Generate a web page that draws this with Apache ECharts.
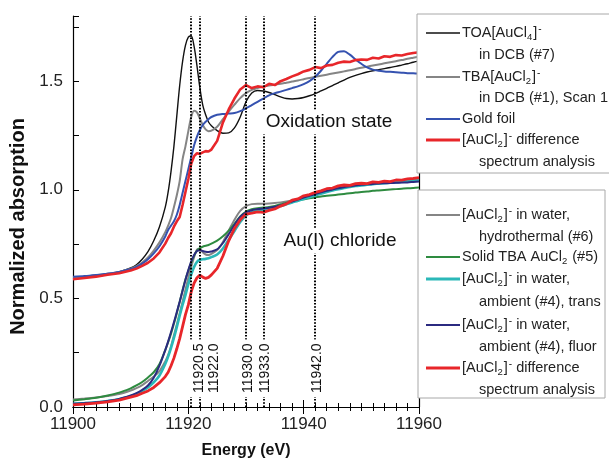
<!DOCTYPE html>
<html><head><meta charset="utf-8">
<script src="https://cdn.jsdelivr.net/npm/echarts@6/dist/echarts.min.js"></script>
<style>html,body{margin:0;padding:0;background:#fff}#c{width:609px;height:464px}</style>
</head><body><div id="c"></div>
<script>
// ---------- data ----------
const energy = [11900,11902,11904,11906,11908,11910,11911,11912,11913,11914,11915,11916,
  11916.5,11917,11917.5,11918,11918.5,11919,11919.5,11920,11920.5,11921,11921.5,11922,11922.5,11923,11923.5,11924,
  11925,11926,11927,11928,11929,11930,11931,11932,11933,11934,
  11935,11936,11937,11938,11939,11940,11941,11942,11943,11944,
  11945,11946,11947,11948,11949,11950,11951,11952,11953,11954,
  11955,11956,11957,11958,11959,11960];

// Oxidation state group
const toaAuCl4 = [0.590,0.597,0.604,0.612,0.622,0.640,
  0.655,0.680,0.715,0.765,0.830,0.920,
  0.990,1.085,1.200,1.340,1.480,1.590,1.665,1.703,1.708,1.660,1.570,1.470,1.390,1.345,1.312,1.295,
  1.272,1.260,1.262,1.285,1.335,1.405,1.445,1.457,1.455,1.448,
  1.438,1.428,1.420,1.418,1.420,1.425,1.433,1.443,1.455,1.467,
  1.480,1.492,1.505,1.517,1.527,1.535,1.542,1.548,1.553,1.558,
  1.563,1.568,1.574,1.580,1.587,1.592];
const tbaAuCl2 = [0.595,0.600,0.606,0.613,0.622,0.637,
  0.648,0.665,0.688,0.720,0.758,0.805,
  0.835,0.870,0.920,0.975,1.040,1.140,1.200,1.270,1.335,1.364,1.356,1.328,1.298,1.278,1.270,1.272,
  1.290,1.325,1.360,1.392,1.422,1.445,1.460,1.468,1.475,1.480,
  1.484,1.488,1.493,1.498,1.503,1.509,1.515,1.520,1.525,1.530,
  1.535,1.540,1.545,1.550,1.556,1.562,1.567,1.572,1.577,1.582,
  1.587,1.592,1.597,1.603,1.608,1.613];
const goldFoil = [0.600,0.603,0.608,0.614,0.622,0.635,
  0.645,0.660,0.680,0.707,0.740,0.785,
  0.815,0.835,0.855,0.885,0.930,0.985,1.040,1.095,1.150,1.205,1.245,1.275,1.298,1.313,1.325,1.335,
  1.345,1.349,1.351,1.353,1.362,1.375,1.390,1.405,1.420,1.435,
  1.445,1.452,1.460,1.468,1.476,1.486,1.500,1.520,1.548,1.580,
  1.612,1.635,1.638,1.622,1.600,1.580,1.563,1.553,1.548,1.545,
  1.543,1.541,1.539,1.537,1.536,1.535];
const diffUpper = [0.588,0.594,0.600,0.609,0.616,0.628,
  0.637,0.650,0.664,0.684,0.712,0.752,
  0.778,0.800,0.830,0.855,0.875,0.930,0.990,1.050,1.120,1.155,1.168,1.165,1.172,1.178,1.176,1.185,
  1.225,1.310,1.370,1.420,1.462,1.482,1.468,1.476,1.472,1.488,
  1.482,1.500,1.510,1.522,1.532,1.545,1.552,1.565,1.560,1.572,
  1.575,1.585,1.590,1.588,1.597,1.600,1.598,1.608,1.604,1.615,
  1.612,1.620,1.618,1.625,1.630,1.633];

// Au(I) chloride group
const waterHydro = [0.035,0.039,0.044,0.051,0.060,0.076,
  0.087,0.101,0.120,0.140,0.165,0.210,
  0.240,0.280,0.330,0.380,0.432,0.485,0.540,0.595,0.645,0.690,0.725,0.728,0.712,0.702,0.700,0.705,
  0.722,0.760,0.812,0.862,0.903,0.925,0.934,0.936,0.936,0.937,
  0.939,0.942,0.946,0.951,0.957,0.963,0.970,0.978,0.986,0.994,
  1.001,1.008,1.013,1.018,1.022,1.025,1.028,1.030,1.032,1.034,
  1.036,1.038,1.040,1.043,1.046,1.048];
const solidTBA = [0.030,0.036,0.043,0.053,0.066,0.086,
  0.099,0.115,0.136,0.160,0.198,0.262,
  0.298,0.338,0.383,0.432,0.485,0.538,0.588,0.628,0.665,0.697,0.720,0.732,0.738,0.742,0.746,0.752,
  0.766,0.786,0.812,0.843,0.877,0.900,0.910,0.915,0.918,0.921,
  0.926,0.933,0.940,0.946,0.951,0.956,0.961,0.965,0.969,0.972,
  0.975,0.978,0.981,0.984,0.987,0.990,0.992,0.995,0.997,0.999,
  1.001,1.003,1.005,1.007,1.008,1.010];
const waterTrans = [0.015,0.018,0.022,0.028,0.036,0.050,
  0.060,0.073,0.090,0.113,0.145,0.198,
  0.232,0.272,0.318,0.368,0.420,0.470,0.515,0.565,0.610,0.645,0.668,0.678,0.680,0.682,0.685,0.690,
  0.702,0.730,0.770,0.810,0.852,0.882,0.897,0.904,0.908,0.912,
  0.918,0.925,0.933,0.941,0.950,0.958,0.966,0.974,0.982,0.990,
  0.997,1.003,1.008,1.013,1.017,1.020,1.023,1.026,1.028,1.030,
  1.032,1.034,1.036,1.038,1.040,1.042];
const waterFluor = [0.015,0.018,0.022,0.028,0.037,0.053,
  0.064,0.079,0.099,0.135,0.190,0.262,
  0.302,0.345,0.390,0.437,0.485,0.535,0.585,0.630,0.670,0.700,0.718,0.722,0.718,0.715,0.714,0.716,
  0.726,0.755,0.795,0.838,0.875,0.896,0.906,0.911,0.914,0.917,
  0.922,0.929,0.937,0.946,0.955,0.964,0.972,0.980,0.988,0.995,
  1.001,1.007,1.012,1.016,1.020,1.023,1.025,1.027,1.029,1.030,
  1.031,1.032,1.033,1.034,1.036,1.038];
const diffLower = [0.010,0.013,0.018,0.024,0.032,0.045,
  0.052,0.063,0.074,0.090,0.112,0.140,
  0.160,0.190,0.225,0.268,0.315,0.370,0.425,0.470,0.530,0.570,0.595,0.607,0.598,0.592,0.597,0.608,
  0.638,0.695,0.765,0.822,0.862,0.888,0.892,0.898,0.896,0.905,
  0.912,0.925,0.935,0.952,0.958,0.972,0.978,0.988,0.995,1.005,
  1.008,1.018,1.022,1.020,1.028,1.030,1.028,1.036,1.034,1.040,
  1.038,1.045,1.044,1.050,1.052,1.056];

const refLines = [11920.5, 11922.0, 11930.0, 11933.0, 11942.0];
const xRange = [11900, 11960];
const yRange = [0, 1.8];

// ---------- styles ----------
const FONT = 'Liberation Sans, Arial, sans-serif';
const seriesDefs = [
  {name:'TOA[AuCl4]- in DCB (#7)', data: toaAuCl4, color:'#111111', width:1.4, smooth:0.3},
  {name:'TBA[AuCl2]- in DCB (#1), Scan 1', data: tbaAuCl2, color:'#858585', width:2, smooth:0.3},
  {name:'Gold foil', data: goldFoil, color:'#3552b0', width:2, smooth:0.3},
  {name:'[AuCl2]- difference (oxidation)', data: diffUpper, color:'#e8262a', width:2.6, smooth:false},
  {name:'[AuCl2]- in water, hydrothermal (#6)', data: waterHydro, color:'#858585', width:2, smooth:0.3},
  {name:'Solid TBA AuCl2 (#5)', data: solidTBA, color:'#2e8b40', width:2, smooth:0.3},
  {name:'[AuCl2]- in water, ambient (#4), trans', data: waterTrans, color:'#2bb8b8', width:2.6, smooth:0.3},
  {name:'[AuCl2]- in water, ambient (#4), fluor', data: waterFluor, color:'#2b2a80', width:2, smooth:0.3},
  {name:'[AuCl2]- difference (chloride)', data: diffLower, color:'#e8262a', width:2.8, smooth:false}
];

const series = seriesDefs.map((s, i) => ({
  type:'line', name:s.name, xAxisIndex:0, yAxisIndex:0,
  data: energy.map((e, k) => [e, s.data[k]]),
  showSymbol:false, smooth:s.smooth, animation:false, silent:true,
  lineStyle:{color:s.color, width:s.width}, itemStyle:{color:s.color},
  z: 2 + i * 0.01
}));
series[0].markLine = {
  silent:true, symbol:['none','none'], animation:false, z:5,
  label:{show:false},
  lineStyle:{color:'#000', type:[1.6,1.6], width:2},
  data: refLines.map(v => ({xAxis:v}))
};

const axisBlack = {lineStyle:{color:'#000', width:1.2}};
const chart = echarts.init(document.getElementById('c'), null, {renderer:'canvas'});
chart.setOption({
  animation:false,
  textStyle:{fontFamily:FONT},
  grid:{left:73, right:190, top:16, bottom:55, containLabel:false},
  xAxis:[
    {type:'value', min:xRange[0], max:xRange[1], interval:20, position:'bottom',
     axisLine:axisBlack, axisTick:{inside:true, length:7, lineStyle:{color:'#000'}},
     minorTick:{show:true, splitNumber:10, length:4, lineStyle:{color:'#000'}},
     splitLine:{show:false}, minorSplitLine:{show:false},
     axisLabel:{fontSize:17, color:'#222', margin:9, fontFamily:FONT, formatter: v => String(v)},
     name:'Energy (eV)', nameLocation:'middle', nameGap:36,
     nameTextStyle:{fontWeight:'bold', fontSize:16, color:'#111', fontFamily:FONT}},
    {type:'value', min:xRange[0], max:xRange[1], interval:20, position:'top',
     axisLine:axisBlack, axisTick:{inside:true, length:7, lineStyle:{color:'#000'}},
     minorTick:{show:true, splitNumber:10, length:4, lineStyle:{color:'#000'}},
     splitLine:{show:false}, axisLabel:{show:false}}
  ],
  yAxis:[
    {type:'value', min:yRange[0], max:yRange[1], interval:0.25, position:'left',
     axisLine:axisBlack, axisTick:{inside:true, length:6, lineStyle:{color:'#000'}},
     splitLine:{show:false},
     axisLabel:{fontSize:17, color:'#222', margin:10, fontFamily:FONT,
       formatter: v => (Math.abs(v*2 - Math.round(v*2)) < 1e-6 && v <= 1.5) ? v.toFixed(1) : ''},
     name:'Normalized absorption', nameLocation:'middle', nameGap:44, nameRotate:90,
     nameTextStyle:{fontWeight:'bold', fontSize:20, color:'#111', fontFamily:FONT, padding:[0,30,0,0]}},
    {type:'value', min:yRange[0], max:yRange[1], position:'right',
     axisLine:axisBlack, axisTick:{show:false}, axisLabel:{show:false}, splitLine:{show:false}}
  ],
  series: series
});

// ---------- annotations & legends ----------
const RICH = {
  n:{fontSize:14.5, fontFamily:FONT, fill:'#222'},
  b:{fontSize:9.5, fontFamily:FONT, fill:'#222', padding:[8,1,0,0]},
  p:{fontSize:10, fontFamily:FONT, fill:'#222', padding:[0,0,8,1]}
};
const AuCl2 = '{n|[AuCl}{b|2}{n|]}{p|-}';
const legend1 = [
  {color:'#111111', w:1.6, lines:['{n|TOA[AuCl}{b|4}{n|]}{p|-}', '{n|in DCB (#7)}'], rows:[33, 55]},
  {color:'#858585', w:2.2, lines:['{n|TBA[AuCl}{b|2}{n|]}{p|-}', '{n|in DCB (#1), Scan 1}'], rows:[77, 98]},
  {color:'#3552b0', w:2.2, lines:['{n|Gold foil}'], rows:[119]},
  {color:'#e8262a', w:2.8, lines:[AuCl2 + '{n| difference}', '{n|spectrum analysis}'], rows:[140, 162]}
];
const legend2 = [
  {color:'#858585', w:2.2, lines:[AuCl2 + '{n| in water,}', '{n|hydrothermal (#6)}'], rows:[215, 237]},
  {color:'#2e8b40', w:2.2, lines:['{n|Solid TBA AuCl}{b|2}{n| (#5)}'], rows:[257]},
  {color:'#2bb8b8', w:3, lines:[AuCl2 + '{n| in water,}', '{n|ambient (#4), trans}'], rows:[279, 302]},
  {color:'#2b2a80', w:2.2, lines:[AuCl2 + '{n| in water,}', '{n|ambient (#4), fluor}'], rows:[325, 347]},
  {color:'#e8262a', w:3, lines:[AuCl2 + '{n| difference}', '{n|spectrum analysis}'], rows:[368, 390]}
];

const graphic = [];
graphic.push({type:'rect', shape:{x:417, y:14, width:200, height:159},
  style:{fill:'#fff', stroke:'#a8a8a8', lineWidth:1}, z:100, silent:true});
graphic.push({type:'rect', shape:{x:418, y:190, width:187, height:208},
  style:{fill:'#fff', stroke:'#a8a8a8', lineWidth:1}, z:100, silent:true});
[legend1, legend2].forEach(items => {
  items.forEach(it => {
    graphic.push({type:'line', shape:{x1:426, y1:it.rows[0], x2:460, y2:it.rows[0]},
      style:{stroke:it.color, lineWidth:it.w}, z:101, silent:true});
    it.lines.forEach((t, j) => {
      graphic.push({type:'text', x: j === 0 ? 462 : 479, y: it.rows[j],
        style:{text:t, rich:RICH, verticalAlign:'middle', align:'left'}, z:101, silent:true});
    });
  });
});

graphic.push({type:'text', x:329, y:122, z:100, silent:true,
  style:{text:'Oxidation state', font:'19px ' + FONT, fill:'#111', align:'center', verticalAlign:'middle',
         backgroundColor:'#fff', padding:[3,4,3,4]}});
graphic.push({type:'text', x:340, y:241, z:100, silent:true,
  style:{text:'Au(I) chloride', font:'19px ' + FONT, fill:'#111', align:'center', verticalAlign:'middle',
         backgroundColor:'#fff', padding:[3,4,3,4]}});

const labelShift = [8, 14, 2, 2, 2];
const yBottom = chart.convertToPixel({yAxisIndex:0}, yRange[0]);
refLines.forEach((v, i) => {
  const px = chart.convertToPixel({xAxisIndex:0}, v);
  graphic.push({type:'text', x: px + labelShift[i], y: yBottom - 10, rotation: Math.PI / 2, z:100, silent:true,
    style:{text: v.toFixed(1), font:'14px ' + FONT, fill:'#111', align:'left', verticalAlign:'middle',
           backgroundColor:'#fff', padding:[3,4,3,4]}});
});

chart.setOption({graphic: graphic});
</script>
</body></html>
